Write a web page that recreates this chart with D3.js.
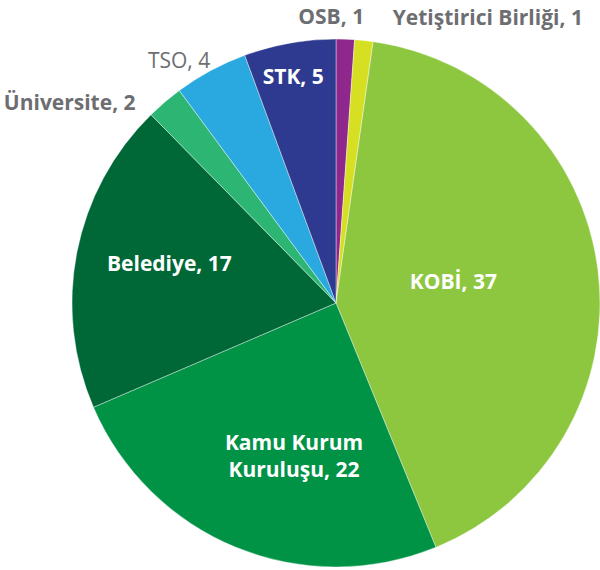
<!DOCTYPE html>
<html>
<head>
<meta charset="utf-8">
<script src="https://cdn.jsdelivr.net/npm/d3@7"></script>
<style>
  body { margin: 0; background: #fff; }
  text { font-family: "Open Sans", sans-serif; }
</style>
</head>
<body>
<svg width="600" height="570"></svg>
<script>
var labels = ["OSB", "Yetiştirici Birliği", "KOBİ", "Kamu Kurum Kuruluşu", "Belediye", "Üniversite", "TSO", "STK"];
var values = [1, 1, 37, 22, 17, 2, 4, 5];
var colors = ["#8e288c", "#d7df23", "#8dc63f", "#009245", "#006837", "#2db673", "#29a9e0", "#2e3a90"];

// label layout: inside/outside, anchor, weight, nudge from centroid
var labelLayout = {
  "OSB":                 {inside: false, anchor: "middle", weight: 700, nudge: [-15, 4]},
  "Yetiştirici Birliği": {inside: false, anchor: "start",  weight: 700, nudge: [26, 3]},
  "KOBİ":                {inside: true,  anchor: "middle", weight: 700, nudge: [-45, -1]},
  "Kamu Kurum Kuruluşu": {inside: true,  anchor: "middle", weight: 700, nudge: [20, 2], lines: ["Kamu Kurum", "Kuruluşu, 22"]},
  "Belediye":            {inside: true,  anchor: "middle", weight: 700, nudge: [-6, -8]},
  "Üniversite":          {inside: false, anchor: "end",    weight: 700, nudge: [-12, 21]},
  "TSO":                 {inside: false, anchor: "end",    weight: 400, nudge: [12, 13]},
  "STK":                 {inside: true,  anchor: "middle", weight: 700, nudge: [-14, -65]}
};

var svg = d3.select("svg"),
    cx = 336, cy = 303, radius = 264,
    g = svg.append("g").attr("transform", "translate(" + cx + "," + cy + ")");

var data = labels.map(function(l, i) { return {label: l, value: values[i], color: colors[i]}; });

var pie = d3.pie().sort(null).value(function(d) { return d.value; });
var arc = d3.arc().innerRadius(0).outerRadius(radius);
var inArc = d3.arc().innerRadius(radius * 0.62).outerRadius(radius * 0.62);
var outArc = d3.arc().innerRadius(radius * 1.1).outerRadius(radius * 1.1);

var arcs = pie(data);

g.selectAll("path.slice")
    .data(arcs)
  .enter().append("path")
    .attr("class", "slice")
    .attr("d", arc)
    .attr("fill", function(d) { return d.data.color; })
    .attr("stroke", "#fff")
    .attr("stroke-width", 0.4);

var lbl = g.selectAll("text.lbl")
    .data(arcs)
  .enter().append("text")
    .attr("class", "lbl")
    .attr("transform", function(d) {
      var L = labelLayout[d.data.label];
      var c = (L.inside ? inArc : outArc).centroid(d);
      return "translate(" + (c[0] + L.nudge[0]) + "," + (c[1] + L.nudge[1]) + ")";
    })
    .attr("text-anchor", function(d) { return labelLayout[d.data.label].anchor; })
    .style("font-size", "21px")
    .style("font-weight", function(d) { return labelLayout[d.data.label].weight; })
    .attr("fill", function(d) { return labelLayout[d.data.label].inside ? "#fff" : "#6d6e71"; });

lbl.each(function(d) {
  var L = labelLayout[d.data.label];
  var lines = L.lines || [d.data.label + ", " + d.data.value];
  var sel = d3.select(this);
  lines.forEach(function(t, i) {
    sel.append("tspan")
      .attr("x", 0)
      .attr("y", (i - (lines.length - 1) / 2) * 27)
      .attr("dy", "0.35em")
      .text(t);
  });
});
</script>
</body>
</html>
